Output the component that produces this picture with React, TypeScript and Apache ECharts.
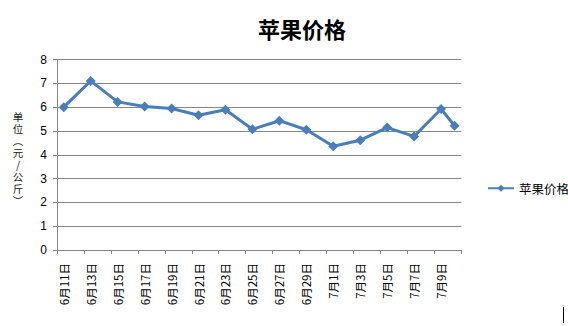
import React, { useEffect, useRef } from "react";
import * as echarts from "echarts";

// Data points (dates shown on axis every 2 days; the series has one extra point on 7/10)
const pointDates: string[] = [
  "6月11日", "6月13日", "6月15日", "6月17日", "6月19日", "6月21日", "6月23日", "6月25日",
  "6月27日", "6月29日", "7月1日", "7月3日", "7月5日", "7月7日", "7月9日", "7月10日",
];
const prices: number[] = [
  6.0, 7.1, 6.22, 6.03, 5.94, 5.66, 5.89, 5.07,
  5.43, 5.05, 4.36, 4.61, 5.14, 4.77, 5.92, 5.22,
];
const yTicks = { min: 0, max: 8, interval: 1 };
const seriesName = "苹果价格";
const titleText = "苹果价格";
const yNameChars = ["单", "位", "︵", "元", "/", "公", "斤", "︶"];

// Day-based category axis (date axis): 6月11日 .. 7月10日
function buildDays(): string[] {
  const out: string[] = [];
  for (let d = 11; d <= 30; d++) out.push(`6月${d}日`);
  for (let d = 1; d <= 10; d++) out.push(`7月${d}日`);
  return out;
}
const dayCategories = buildDays();

export default function App() {
  const ref = useRef<HTMLDivElement>(null);
  useEffect(() => {
    if (!ref.current) return;
    const chart = echarts.init(ref.current, undefined, { renderer: "svg" });
    const data = pointDates.map((d, i) => [dayCategories.indexOf(d), prices[i]]);
    const gray = "#868686";
    const font = "'Liberation Sans', Arial, 'Noto Sans CJK SC', sans-serif";
    const cjk = "'Noto Sans CJK SC', sans-serif";
    const yNameTexts = yNameChars.map((c, i) => ({
      type: "text",
      x: 18,
      y: 116 + i * 12,
      style: {
        text: c,
        fontSize: 10.5,
        lineHeight: 12,
        fill: "#222",
        align: "center",
        verticalAlign: "middle",
        fontFamily: cjk,
      },
    }));
    chart.setOption({
      animation: false,
      backgroundColor: "#ffffff",
      title: {
        text: titleText,
        left: 253,
        top: 12,
        textStyle: {
          fontSize: 22,
          fontWeight: "bold",
          color: "#000000",
          fontFamily: cjk,
        },
      },
      legend: {
        left: 482,
        top: 177,
        itemWidth: 26,
        itemHeight: 9,
        itemGap: 5,
        data: [seriesName],
        textStyle: { fontSize: 12.5, color: "#000", fontFamily: cjk },
      },
      grid: { left: 57, right: 106.7, top: 59.5, bottom: 76, containLabel: false },
      xAxis: {
        type: "category",
        data: dayCategories,
        boundaryGap: true,
        axisLine: { show: true, lineStyle: { color: gray, width: 1 } },
        axisTick: { show: true, interval: 1, length: 4, lineStyle: { color: gray } },
        axisLabel: {
          interval: 1,
          rotate: 90,
          margin: 13,
          fontSize: 11.5,
          color: "#000",
          fontFamily: cjk,
        },
        splitLine: { show: false },
      },
      yAxis: {
        type: "value",
        min: yTicks.min,
        max: yTicks.max,
        interval: yTicks.interval,
        axisLine: { show: true, lineStyle: { color: gray, width: 1 } },
        axisTick: { show: true, length: 4, lineStyle: { color: gray } },
        axisLabel: { margin: 10, fontSize: 12, color: "#000", fontFamily: font },
        splitLine: { show: true, lineStyle: { color: gray, width: 1 } },
      },
      series: [
        {
          name: seriesName,
          type: "line",
          data,
          symbol: "diamond",
          symbolSize: 10,
          showSymbol: true,
          showAllSymbol: true,
          lineStyle: { color: "#4A7EBB", width: 3 },
          itemStyle: { color: "#4A7EBB" },
        },
      ],
      graphic: [
        ...yNameTexts,
        {
          type: "line",
          shape: { x1: 563.5, y1: 307, x2: 563.5, y2: 323 },
          style: { stroke: "#000", lineWidth: 1 },
        },
      ],
    });
    return () => chart.dispose();
  }, []);
  return (
    <div
      ref={ref}
      style={{ position: "absolute", left: 0, top: 0, width: 568, height: 326 }}
    />
  );
}
